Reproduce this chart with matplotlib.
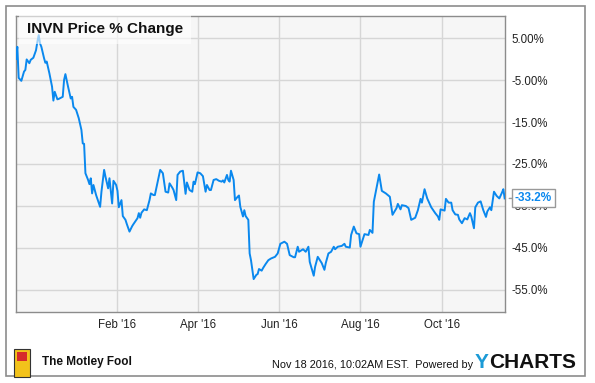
import pandas as pd
import matplotlib
matplotlib.use("Agg")
import matplotlib.pyplot as plt
from matplotlib.patches import Rectangle

plt.rcParams["font.family"] = ["Liberation Sans", "DejaVu Sans"]

# INVN price % change
dates = [
    "2015-11-17", "2015-11-18", "2015-11-19", "2015-11-21", "2015-11-23", "2015-11-24",
    "2015-11-25", "2015-11-27", "2015-11-28", "2015-11-30", "2015-12-02", "2015-12-03",
    "2015-12-04", "2015-12-05", "2015-12-06", "2015-12-08", "2015-12-09", "2015-12-10",
    "2015-12-12", "2015-12-14", "2015-12-15", "2015-12-16", "2015-12-18", "2015-12-19",
    "2015-12-22", "2015-12-23", "2015-12-24", "2015-12-26", "2015-12-28", "2015-12-29",
    "2015-12-30", "2016-01-01", "2016-01-03", "2016-01-05", "2016-01-06", "2016-01-07",
    "2016-01-08", "2016-01-10", "2016-01-11", "2016-01-12", "2016-01-13", "2016-01-14",
    "2016-01-16", "2016-01-19", "2016-01-20", "2016-01-22", "2016-01-23", "2016-01-25",
    "2016-01-26", "2016-01-28", "2016-01-29", "2016-01-31", "2016-02-01", "2016-02-02",
    "2016-02-04", "2016-02-05", "2016-02-07", "2016-02-08", "2016-02-10", "2016-02-12",
    "2016-02-13", "2016-02-16", "2016-02-17", "2016-02-18", "2016-02-19", "2016-02-21",
    "2016-02-23", "2016-02-25", "2016-02-26", "2016-02-28", "2016-02-29", "2016-03-02",
    "2016-03-04", "2016-03-06", "2016-03-08", "2016-03-10", "2016-03-11", "2016-03-13",
    "2016-03-14", "2016-03-16", "2016-03-17", "2016-03-19", "2016-03-21", "2016-03-23",
    "2016-03-24", "2016-03-26", "2016-03-28", "2016-03-29", "2016-03-30", "2016-04-01",
    "2016-04-03", "2016-04-05", "2016-04-07", "2016-04-08", "2016-04-10", "2016-04-11",
    "2016-04-13", "2016-04-15", "2016-04-17", "2016-04-19", "2016-04-20", "2016-04-21",
    "2016-04-23", "2016-04-24", "2016-04-25", "2016-04-26", "2016-04-28", "2016-04-29",
    "2016-05-01", "2016-05-02", "2016-05-03", "2016-05-05", "2016-05-06", "2016-05-07",
    "2016-05-09", "2016-05-10", "2016-05-11", "2016-05-13", "2016-05-15", "2016-05-16",
    "2016-05-17", "2016-05-19", "2016-05-20", "2016-05-22", "2016-05-24", "2016-05-26",
    "2016-05-29", "2016-05-31", "2016-06-02", "2016-06-05", "2016-06-07", "2016-06-09",
    "2016-06-12", "2016-06-13", "2016-06-15", "2016-06-16", "2016-06-19", "2016-06-21",
    "2016-06-23", "2016-06-24", "2016-06-27", "2016-06-28", "2016-06-30", "2016-07-03",
    "2016-07-05", "2016-07-06", "2016-07-08", "2016-07-10", "2016-07-12", "2016-07-13",
    "2016-07-15", "2016-07-18", "2016-07-20", "2016-07-21", "2016-07-24", "2016-07-25",
    "2016-07-27", "2016-07-29", "2016-07-31", "2016-08-01", "2016-08-03", "2016-08-04",
    "2016-08-07", "2016-08-08", "2016-08-10", "2016-08-11", "2016-08-13", "2016-08-15",
    "2016-08-17", "2016-08-20", "2016-08-23", "2016-08-25", "2016-08-28", "2016-08-29",
    "2016-08-31", "2016-09-01", "2016-09-04", "2016-09-06", "2016-09-08", "2016-09-11",
    "2016-09-13", "2016-09-15", "2016-09-16", "2016-09-18", "2016-09-20", "2016-09-23",
    "2016-09-26", "2016-09-28", "2016-09-29", "2016-09-30", "2016-10-03", "2016-10-04",
    "2016-10-06", "2016-10-08", "2016-10-09", "2016-10-11", "2016-10-13", "2016-10-14",
    "2016-10-16", "2016-10-18", "2016-10-20", "2016-10-22", "2016-10-23", "2016-10-25",
    "2016-10-26", "2016-10-28", "2016-10-30", "2016-11-01", "2016-11-03", "2016-11-04",
    "2016-11-06", "2016-11-07", "2016-11-09", "2016-11-11", "2016-11-13", "2016-11-15",
    "2016-11-16", "2016-11-17",
]

pct_change = [
    0.0, 2.9, -4.5, -5.2, -3.0, -2.6,
    -0.1, -1.0, -0.2, 0.3, 2.1, 4.1,
    5.7, 3.7, 2.9, 0.2, -0.9, -0.6,
    -3.4, -6.6, -9.9, -7.8, -9.6, -9.5,
    -9.0, -5.0, -3.6, -6.6, -9.4, -9.0,
    -11.4, -12.1, -14.1, -16.9, -20.1, -20.2,
    -27.2, -28.8, -29.8, -28.4, -32.0, -30.0,
    -32.4, -35.2, -31.6, -26.4, -28.0, -30.8,
    -28.4, -34.4, -29.0, -30.0, -31.4, -35.3,
    -33.6, -37.4, -38.3, -39.3, -41.1, -39.8,
    -39.3, -37.9, -36.7, -37.8, -36.6, -35.8,
    -36.0, -33.6, -32.0, -32.4, -32.4, -29.4,
    -26.4, -27.2, -31.6, -31.8, -29.6, -30.6,
    -31.2, -33.6, -27.6, -26.8, -26.6, -32.1,
    -29.4, -31.2, -31.6, -29.2, -29.8, -27.0,
    -27.2, -27.9, -31.6, -30.0, -31.2, -31.2,
    -28.8, -28.6, -29.0, -29.2, -28.9, -29.4,
    -27.6, -28.8, -29.2, -26.6, -28.8, -33.6,
    -32.8, -32.5, -35.2, -37.5, -36.0, -37.4,
    -38.3, -46.3, -47.9, -52.4, -51.4, -51.2,
    -50.0, -50.4, -49.8, -48.8, -47.9, -47.5,
    -47.1, -46.3, -44.0, -43.5, -44.0, -46.7,
    -47.2, -47.2, -44.7, -45.9, -45.3, -45.9,
    -44.7, -48.3, -51.6, -49.5, -47.1, -48.6,
    -50.2, -48.6, -46.3, -45.9, -44.7, -45.3,
    -44.7, -44.5, -44.0, -44.7, -44.9, -41.9,
    -39.9, -41.5, -41.7, -44.7, -42.7, -41.7,
    -41.9, -40.7, -41.4, -34.0, -30.8, -27.5,
    -31.4, -32.0, -32.8, -37.1, -35.5, -34.5,
    -35.8, -34.8, -35.0, -35.5, -38.3, -37.8,
    -36.0, -33.3, -34.2, -31.0, -33.2, -35.3,
    -36.7, -37.5, -38.3, -35.8, -36.1, -33.3,
    -34.2, -34.2, -36.0, -37.0, -37.1, -38.2,
    -39.1, -37.9, -38.2, -36.7, -37.5, -40.3,
    -35.3, -34.2, -33.9, -36.0, -37.6, -36.3,
    -35.3, -36.0, -31.6, -32.6, -33.2, -31.8,
    -31.0, -33.2,
]

y_ticks = [5, -5, -15, -25, -35, -45, -55]
y_tick_labels = ["5.00%", "-5.00%", "-15.0%", "-25.0%", "-35.0%", "-45.0%", "-55.0%"]
x_ticks = ["2016-02-01", "2016-04-01", "2016-06-01", "2016-08-01", "2016-10-01"]
x_tick_labels = ["Feb '16", "Apr '16", "Jun '16", "Aug '16", "Oct '16"]
last_label = "-33.2%"

LINE_BLUE = "#0a88ee"

df = pd.DataFrame({"date": pd.to_datetime(dates), "pct": pct_change})

fig = plt.figure(figsize=(5.95, 3.83), dpi=100)
fig.patch.set_facecolor("white")

# outer frame round the whole chart
fig.add_artist(Rectangle((6 / 595, 7 / 383), 579 / 595, 370 / 383,
                         transform=fig.transFigure, fill=False,
                         edgecolor="#8c8c8c", linewidth=1.2))

ax = fig.add_axes([16 / 595, 71 / 383, 489 / 595, 296 / 383])
ax.set_facecolor("#f6f6f6")
ax.plot(df["date"], df["pct"], color=LINE_BLUE, linewidth=1.4, zorder=3)

ax.set_xlim(pd.Timestamp("2015-11-17"), pd.Timestamp("2016-11-17 06:00"))
ax.set_ylim(-60.24, 10.24)

ax.set_yticks(y_ticks)
ax.set_yticklabels(y_tick_labels)
ax.yaxis.tick_right()
ax.set_xticks(pd.to_datetime(x_ticks))
ax.set_xticklabels(x_tick_labels)

ax.tick_params(axis="both", length=0, labelsize=8.3, colors="#222222")
ax.tick_params(axis="y", pad=5)
ax.tick_params(axis="x", pad=5)
ax.grid(True, color="#d6d6d6", linewidth=1.0)
ax.set_axisbelow(True)
for spine in ax.spines.values():
    spine.set_color("#8c8c8c")
    spine.set_linewidth(1.0)

# title box in the top-left corner of the plot
ax.text(0.022, 0.955, "INVN Price % Change", transform=ax.transAxes,
        fontsize=11, fontweight="bold", color="#111111", va="center", ha="left",
        zorder=5,
        bbox=dict(boxstyle="square,pad=0.5", facecolor="white", alpha=0.6,
                  edgecolor="none"))

# last value label to the right of the plot, covering the -35% tick label
trans = matplotlib.transforms.blended_transform_factory(ax.transAxes, ax.transData)
ax.text(1.02, pct_change[-1], last_label, transform=trans, fontsize=8.5,
        fontweight="bold", color=LINE_BLUE, va="center", ha="left", zorder=6,
        clip_on=False,
        bbox=dict(boxstyle="square,pad=0.25", facecolor="white",
                  edgecolor="#999999", linewidth=1.0))
ax.annotate("", xy=(1.003, pct_change[-1]), xycoords=trans,
            xytext=(1.02, pct_change[-1]), textcoords=trans,
            arrowprops=dict(arrowstyle="-", color="#999999", lw=1.0))

# footer
fig.add_artist(Rectangle((14 / 595, 6 / 383), 16 / 595, 28 / 383,
                         transform=fig.transFigure, facecolor="#f2c21b",
                         edgecolor="#333333", linewidth=0.8))
fig.add_artist(Rectangle((17 / 595, 22 / 383), 10 / 595, 9 / 383,
                         transform=fig.transFigure, facecolor="#d62b2b",
                         edgecolor="none"))
fig.text(42 / 595, 21 / 383, "The Motley Fool", fontsize=8.5, fontweight="bold",
         color="#111111", va="center", ha="left")
fig.text(473 / 595, 18 / 383, "Nov 18 2016, 10:02AM EST.  Powered by",
         fontsize=7.8, color="#111111", va="center", ha="right")
fig.text(475 / 595, 20 / 383, "Y", fontsize=15, fontweight="bold",
         color="#1b9ad6", va="center", ha="left")
fig.text(489 / 595, 20 / 383, "CHARTS", fontsize=15, fontweight="bold",
         color="#111111", va="center", ha="left")

fig.savefig("out.png", dpi=100)
